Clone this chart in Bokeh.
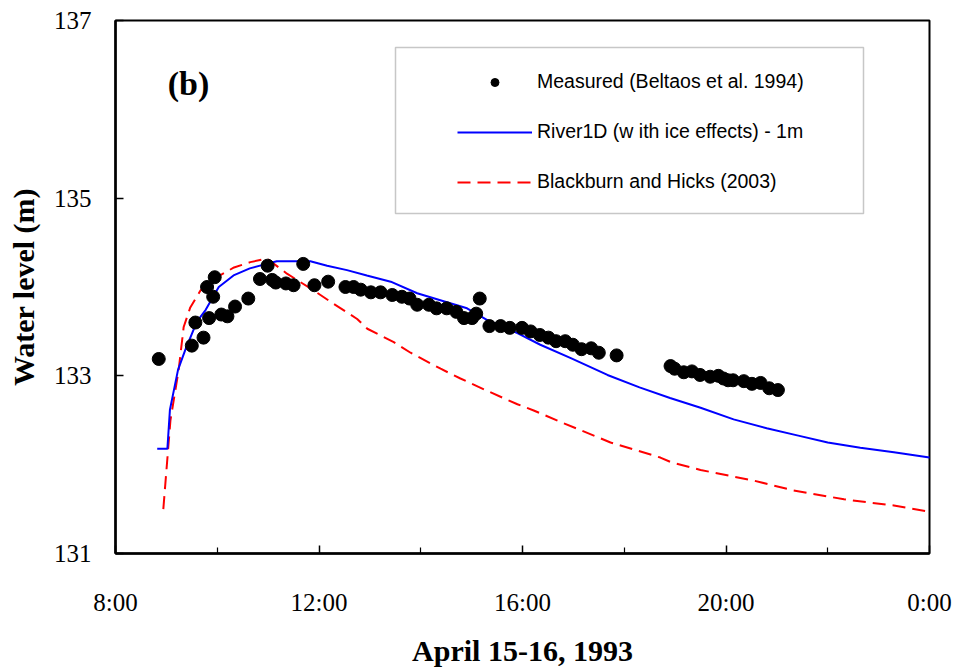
from bokeh.plotting import figure
from bokeh.models import (Range1d, FixedTicker, Legend, LegendItem, BoxAnnotation, Label)
from bokeh.embed import file_html
from bokeh.resources import INLINE

# Measured water levels (time in hours from midnight April 15, level in m)
measured_t = [8.85, 9.50, 9.57, 9.73, 9.84, 9.80, 9.95, 9.92, 10.08, 10.20,
              10.35, 10.61, 10.84, 10.99, 11.08, 11.15, 11.35, 11.50, 11.69, 11.91,
              12.18, 12.52, 12.68, 12.82, 13.02, 13.21, 13.44, 13.63, 13.78, 13.93,
              14.16, 14.31, 14.51, 14.70, 14.85, 15.01, 15.09, 15.16, 15.35, 15.57,
              15.75, 15.99, 16.16, 16.34, 16.51, 16.66, 16.84, 16.99, 17.16, 17.35,
              17.50, 17.85, 18.91, 18.99, 19.17, 19.33, 19.49, 19.69, 19.85, 19.95,
              20.04, 20.14, 20.35, 20.51, 20.68, 20.85, 21.02]
measured_z = [133.19, 133.34, 133.60, 133.43, 133.65, 134.00, 134.11, 133.89, 133.69, 133.67,
              133.78, 133.87, 134.09, 134.24, 134.08, 134.05, 134.04, 134.02, 134.26, 134.02,
              134.06, 134.00, 134.00, 133.97, 133.94, 133.94, 133.91, 133.89, 133.87, 133.80,
              133.80, 133.76, 133.76, 133.72, 133.65, 133.65, 133.70, 133.87, 133.56, 133.56,
              133.54, 133.54, 133.50, 133.46, 133.43, 133.39, 133.39, 133.35, 133.30, 133.31,
              133.26, 133.23, 133.11, 133.08, 133.04, 133.05, 133.01, 132.99, 133.00, 132.97,
              132.95, 132.95, 132.94, 132.91, 132.92, 132.86, 132.84]

# River1D model result (with ice effects), shifted by -1 m
river1d_t = [8.82, 9.02, 9.07, 9.23, 9.37, 9.60, 9.77, 9.86, 10.03, 10.32,
             10.64, 10.97, 11.17, 11.83, 12.16, 12.55, 12.94, 13.41, 13.93, 14.45,
             14.91, 15.30, 15.90, 16.35, 16.95, 17.67, 18.30, 18.90, 19.50, 20.15,
             20.80, 21.40, 22.00, 22.64, 23.30, 24.00, 24.15]
river1d_z = [132.18, 132.18, 132.62, 133.07, 133.29, 133.61, 133.74, 133.83, 134.00, 134.13,
             134.21, 134.26, 134.29, 134.29, 134.24, 134.19, 134.13, 134.06, 133.93, 133.84,
             133.76, 133.63, 133.48, 133.35, 133.20, 133.01, 132.87, 132.75, 132.64, 132.51,
             132.41, 132.33, 132.25, 132.19, 132.14, 132.08, 132.07]

# Blackburn and Hicks (2003) result
bh_t = [8.94, 9.08, 9.24, 9.34, 9.47, 9.67, 9.93, 10.33, 10.65, 10.98,
        11.37, 11.90, 12.29, 12.75, 12.95, 13.47, 13.80, 14.39, 14.78, 15.31,
        15.90, 16.22, 16.75, 17.73, 18.71, 18.91, 19.50, 20.55, 21.33, 22.32,
        23.30, 24.00, 24.15]
bh_z = [131.50, 132.50, 133.06, 133.55, 133.77, 133.96, 134.09, 134.22, 134.28, 134.32,
        134.15, 133.96, 133.81, 133.64, 133.53, 133.38, 133.26, 133.08, 132.97, 132.83,
        132.68, 132.61, 132.48, 132.25, 132.08, 132.03, 131.94, 131.82, 131.71, 131.61,
        131.54, 131.47, 131.46]

x_ticks = [8, 12, 16, 20, 24]
x_minor_ticks = [10, 14, 18, 22]
x_tick_labels = ["8:00", "12:00", "16:00", "20:00", "0:00"]
y_ticks = [131, 133, 135, 137]

serif = "Liberation Serif"
sans = "Liberation Sans"

p = figure(frame_width=814, frame_height=533,
           min_border_left=115, min_border_right=29, min_border_top=20, min_border_bottom=117,
           x_range=Range1d(8, 24), y_range=Range1d(131, 137),
           output_backend="svg", toolbar_location=None,
           background_fill_color="white", border_fill_color="white")

p.xgrid.visible = False
p.ygrid.visible = False
p.outline_line_color = "black"
p.outline_line_width = 2

# axes
p.xaxis.ticker = FixedTicker(ticks=x_ticks, minor_ticks=x_minor_ticks)
p.xaxis.major_label_overrides = dict(zip(x_ticks, x_tick_labels))
p.yaxis.ticker = FixedTicker(ticks=y_ticks, minor_ticks=[])

for ax in (p.xaxis[0], p.yaxis[0]):
    ax.axis_line_color = "black"
    ax.axis_line_width = 2.5
    ax.major_tick_line_color = "black"
    ax.major_tick_line_width = 1.5
    ax.major_tick_in = 8
    ax.major_tick_out = 0
    ax.minor_tick_line_color = "black"
    ax.minor_tick_line_width = 1.2
    ax.minor_tick_in = 6
    ax.minor_tick_out = 0
    ax.major_label_text_font = serif
    ax.major_label_text_font_size = "25px"
    ax.major_label_text_color = "black"
    ax.axis_label_text_font = serif
    ax.axis_label_text_font_style = "bold"
    ax.axis_label_text_font_size = "30px"
    ax.axis_label_text_color = "black"

p.xaxis.major_label_standoff = 35
p.xaxis.axis_label = "April 15-16, 1993"
p.xaxis.axis_label_standoff = 15
p.yaxis.major_label_standoff = 24
p.yaxis.axis_label = "Water level (m)"
p.yaxis.axis_label_standoff = 11

# series
r_bh = p.line(bh_t, bh_z, line_color="#FF0000", line_width=2, line_dash="13 7")
r_river = p.line(river1d_t, river1d_z, line_color="#0000FF", line_width=2)
r_meas = p.scatter(measured_t, measured_z, marker="circle", size=13,
                   fill_color="black", line_color="black")

# legend frame
p.add_layout(BoxAnnotation(left=280, right=748, top=506, bottom=340,
                           left_units="screen", right_units="screen",
                           top_units="screen", bottom_units="screen",
                           fill_alpha=0, line_color="#444444", line_width=1.5))

legend = Legend(items=[LegendItem(label="Measured (Beltaos et al. 1994)", renderers=[r_meas]),
                       LegendItem(label="River1D (w ith ice effects) - 1m", renderers=[r_river]),
                       LegendItem(label="Blackburn and Hicks (2003)", renderers=[r_bh])],
                location=(342, 360), padding=0, margin=0, spacing=27,
                glyph_width=75, glyph_height=20, label_height=20, label_standoff=5,
                label_text_font=sans, label_text_font_size="19.5px", label_text_color="black",
                border_line_alpha=0, background_fill_alpha=0)
p.add_layout(legend, "center")

p.add_layout(Label(x=73, y=470, x_units="screen", y_units="screen", text="(b)",
                   text_font=serif, text_font_style="bold", text_font_size="34px",
                   text_align="center", text_baseline="middle", text_color="black"))

open("out.html", "w").write(file_html(p, INLINE))
